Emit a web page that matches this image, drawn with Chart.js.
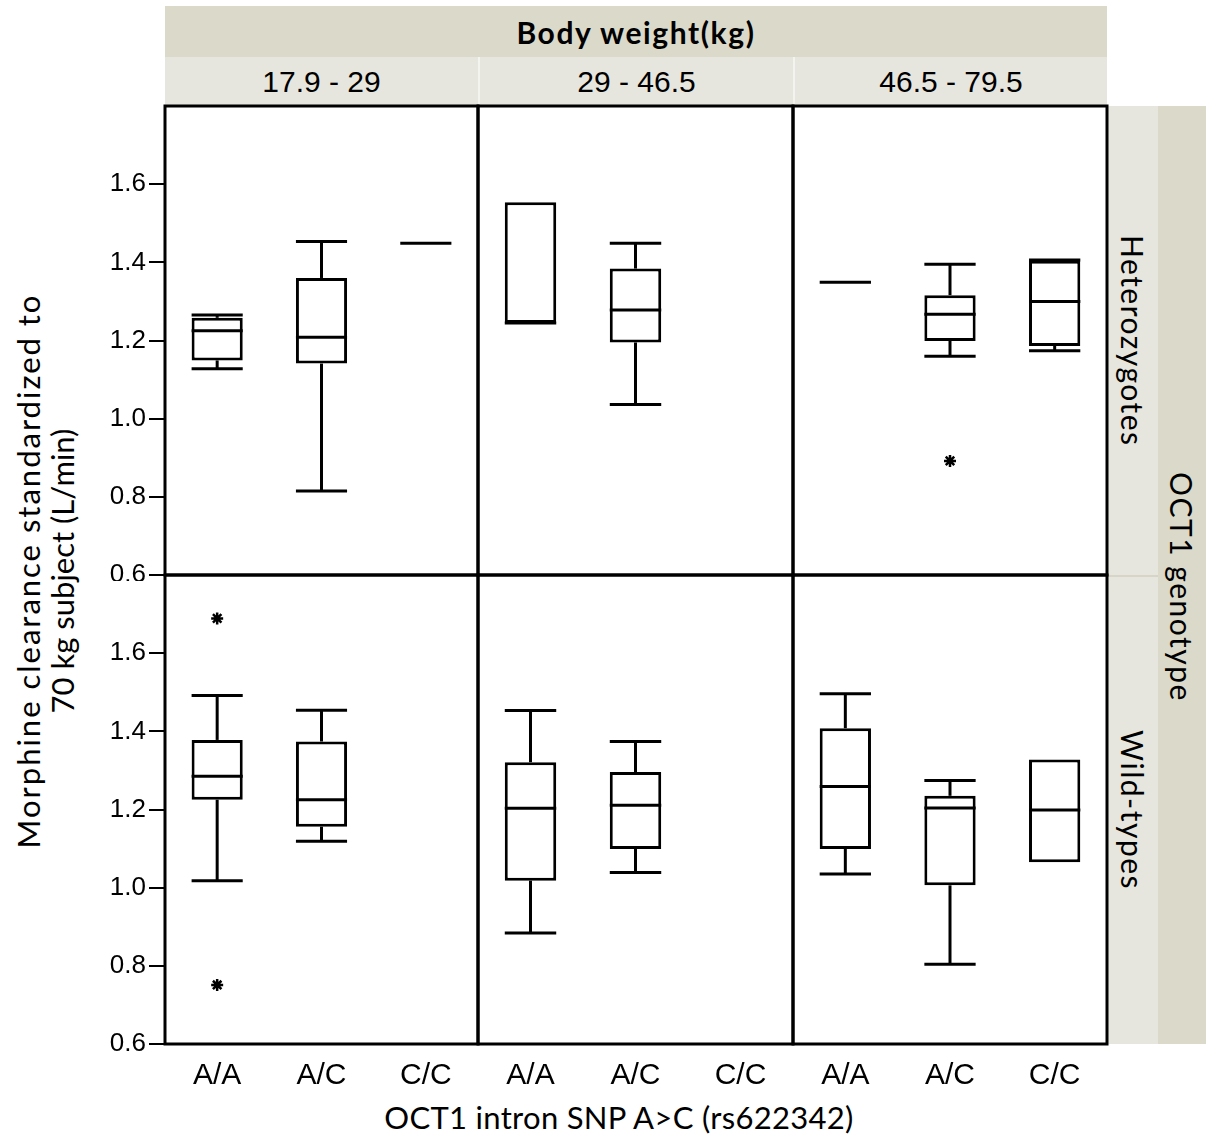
<!DOCTYPE html>
<html>
<head>
<meta charset="utf-8">
<script src="https://cdn.jsdelivr.net/npm/chart.js@4.4.1/dist/chart.umd.min.js"></script>
<style>
  body { margin: 0; background: #fff; }
  #page { position: relative; width: 1206px; height: 1147px; overflow: hidden; background: #fff; }
  #page canvas { position: absolute; }
  .strip { position: absolute; display: flex; align-items: center; justify-content: center; color: #000; box-sizing: border-box; }
  .dark { background: #dad9ca; }
  .light { background: #e7e6de; }
  .num { font-family: "Liberation Sans", Arial, sans-serif; font-size: 30px; }
  .vert { writing-mode: vertical-rl; font-family: "Lato", "Liberation Sans", sans-serif; font-size: 30px; letter-spacing: 1.5px; }
  #ytitle { position: absolute; left: 45px; top: 571px; transform: translate(-50%, -50%) rotate(-90deg);
            white-space: nowrap; text-align: center; font-family: "Lato", sans-serif; font-size: 31px; line-height: 34px; }
  #ytitle .l1 { letter-spacing: 2px; }
  #xtitle { position: absolute; left: 319px; width: 600px; top: 1098px; text-align: center;
            font-family: "Lato", sans-serif; font-size: 31px; letter-spacing: 0.3px; }
</style>
</head>
<body>
<div id="page">
  <div class="strip dark" style="left:165px;top:6px;width:942px;height:51px;font-family:Lato,sans-serif;font-weight:bold;font-size:30px;letter-spacing:1.6px;">Body weight(kg)</div>
  <div id="ytitle"><span class="l1">Morphine clearance standardized to</span><br>70 kg subject (L/min)</div>
  <div id="xtitle">OCT1 intron SNP A&gt;C (rs622342)</div>
</div>
<script>
const weightBands = ['17.9 - 29', '29 - 46.5', '46.5 - 79.5'];
const genotypes = ['A/A', 'A/C', 'C/C'];
const genotypeGroups = ['Heterozygotes', 'Wild-types'];
const stripTitle = 'OCT1 genotype';

// one row per weight band, one value per genotype (null = no subjects)
const hetMin    = [[1.128, 0.815, 1.449], [1.245, 1.036, null], [1.349, 1.160, 1.174]];
const hetQ1     = [[1.149, 1.141, 1.449], [1.245, 1.195, null], [1.349, 1.199, 1.186]];
const hetMedian = [[1.225, 1.208, 1.449], [1.245, 1.278, null], [1.349, 1.267, 1.300]];
const hetQ3     = [[1.258, 1.360, 1.449], [1.554, 1.384, null], [1.349, 1.316, 1.404]];
const hetMax    = [[1.265, 1.453, 1.449], [1.554, 1.449, null], [1.349, 1.395, 1.406]];
const hetOutliers = [[], [], [['A/C', 0.892]]];

const wildMin    = [[1.018, 1.119, null], [0.884, 1.039, null], [1.035, 0.804, 1.065]];
const wildQ1     = [[1.225, 1.156, null], [1.018, 1.099, null], [1.099, 1.006, 1.065]];
const wildMedian = [[1.285, 1.225, null], [1.203, 1.211, null], [1.259, 1.204, 1.199]];
const wildQ3     = [[1.378, 1.374, null], [1.321, 1.296, null], [1.408, 1.235, 1.328]];
const wildMax    = [[1.492, 1.454, null], [1.453, 1.374, null], [1.496, 1.274, 1.328]];
const wildOutliers = [[['A/A', 1.689], ['A/A', 0.751]], [], []];

const yTicks = [0.6, 0.8, 1.0, 1.2, 1.4, 1.6];

// panel grid in page pixels
const colX = [165, 478, 793];
const colW = [313, 315, 314];
const rowY = [106, 575];
const rowH = 469;
const PAD = 6, YW = 105, XH = 50;

const page = document.getElementById('page');

function addStrip(cls, style, html) {
  const d = document.createElement('div');
  d.className = 'strip ' + cls;
  Object.assign(d.style, style);
  d.innerHTML = html;
  page.appendChild(d);
}

weightBands.forEach((b, c) => {
  addStrip('light num', { left: colX[c] + 'px', top: '57px', width: colW[c] + 'px', height: '49px',
    borderLeft: c ? '2px solid #f4f4ee' : 'none' }, b);
});
genotypeGroups.forEach((g, r) => {
  addStrip('light vert', { left: '1108px', top: rowY[r] + 'px', width: '50px', height: rowH + 'px',
    borderTop: r ? '2px solid #d6d5c8' : 'none' }, g);
});
addStrip('dark vert', { left: '1158px', top: '106px', width: '48px', height: (rowH * 2) + 'px', paddingTop: '24px' }, stripTitle);

const framePlugin = {
  id: 'frame',
  afterDraw(chart) {
    const { ctx, chartArea: a } = chart;
    ctx.save();
    ctx.strokeStyle = '#000';
    ctx.lineWidth = 3;
    ctx.strokeRect(a.left, a.top, a.width, a.height);
    ctx.restore();
  }
};

function whiskerPlugin(st) {
  return {
    id: 'whiskers',
    afterDatasetsDraw(chart) {
      const ctx = chart.ctx, y = chart.scales.y;
      const bars = chart.getDatasetMeta(0).data;
      const seg = (x1, y1, x2, y2) => { ctx.beginPath(); ctx.moveTo(x1, y1); ctx.lineTo(x2, y2); ctx.stroke(); };
      ctx.save();
      ctx.strokeStyle = '#000';
      ctx.lineWidth = 3;
      st.median.forEach((m, i) => {
        if (m == null) return;
        const cx = bars[i].x, half = bars[i].width / 2;
        const pMin = y.getPixelForValue(st.min[i]), pQ1 = y.getPixelForValue(st.q1[i]);
        const pMed = y.getPixelForValue(m);
        const pQ3 = y.getPixelForValue(st.q3[i]), pMax = y.getPixelForValue(st.max[i]);
        if (st.max[i] > st.q3[i]) { seg(cx, pQ3, cx, pMax); seg(cx - half, pMax, cx + half, pMax); }
        if (st.min[i] < st.q1[i]) { seg(cx, pQ1, cx, pMin); seg(cx - half, pMin, cx + half, pMin); }
        seg(cx - half, pMed, cx + half, pMed);
      });
      ctx.restore();
    }
  };
}

function makePanel(r, c) {
  const het = r === 0;
  const st = {
    min: (het ? hetMin : wildMin)[c],
    q1: (het ? hetQ1 : wildQ1)[c],
    median: (het ? hetMedian : wildMedian)[c],
    q3: (het ? hetQ3 : wildQ3)[c],
    max: (het ? hetMax : wildMax)[c]
  };
  const outliers = (het ? hetOutliers : wildOutliers)[c].map(o => ({ x: o[0], y: o[1] }));
  const showX = r === 1, showY = c === 0;

  const extraL = showY ? YW : PAD;
  const extraB = showX ? XH : PAD;
  const canvas = document.createElement('canvas');
  canvas.width = colW[c] + extraL + PAD;
  canvas.height = rowH + PAD + extraB;
  canvas.style.left = (colX[c] - extraL) + 'px';
  canvas.style.top = (rowY[r] - PAD) + 'px';
  page.appendChild(canvas);

  new Chart(canvas, {
    type: 'bar',
    data: {
      labels: genotypes,
      datasets: [
        {
          data: st.q1.map((q, i) => q == null ? null : [q, st.q3[i]]),
          backgroundColor: '#fff',
          borderColor: '#000',
          borderWidth: 3,
          borderSkipped: false,
          barPercentage: 0.49,
          categoryPercentage: 1
        },
        {
          type: 'line',
          data: outliers,
          showLine: false,
          pointStyle: 'star',
          pointRadius: 6,
          pointBorderWidth: 2.5,
          borderColor: '#000',
          backgroundColor: '#000'
        }
      ]
    },
    options: {
      responsive: false,
      animation: false,
      layout: { autoPadding: false, padding: { left: showY ? 0 : PAD, right: PAD, top: PAD, bottom: showX ? 0 : PAD } },
      plugins: { legend: { display: false }, tooltip: { enabled: false } },
      scales: {
        x: {
          display: showX,
          grid: { display: false },
          border: { display: false },
          ticks: { color: '#000', font: { family: 'Liberation Sans', size: 30 }, padding: 6, maxRotation: 0, autoSkip: false },
          afterFit: s => {
            if (!showX) return;
            s.height = XH;
            s.paddingLeft = 0;
            s.paddingRight = 0;
          }
        },
        y: {
          display: showY,
          min: 0.6,
          max: 1.8,
          grid: { display: true, drawOnChartArea: false, drawTicks: true, tickLength: 16, color: '#000', lineWidth: 2 },
          border: { display: false },
          ticks: { color: '#000', font: { family: 'Liberation Sans', size: 26 }, padding: 3, stepSize: 0.2,
                   callback: v => v.toFixed(1) },
          afterBuildTicks: s => { s.ticks = yTicks.map(v => ({ value: v })); },
          afterFit: s => {
            if (!showY) return;
            s.width = YW;
            s.paddingTop = 0;
            s.paddingBottom = 0;
          }
        }
      }
    },
    plugins: [whiskerPlugin(st), framePlugin]
  });
}

for (let r = 0; r < 2; r++) for (let c = 0; c < 3; c++) makePanel(r, c);
</script>
</body>
</html>
